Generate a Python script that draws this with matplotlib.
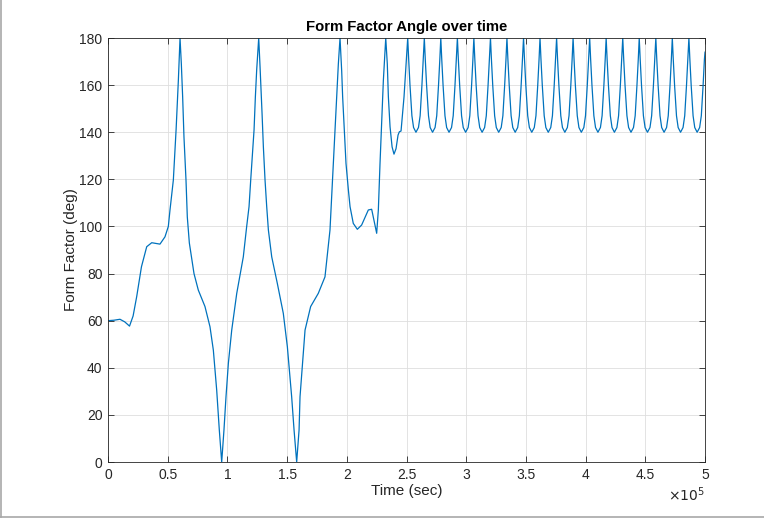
import matplotlib
matplotlib.use("Agg")
import matplotlib.pyplot as plt
from matplotlib.lines import Line2D

plt.rcParams['font.family'] = ['Liberation Sans', 'DejaVu Sans']

# time in units of 1e5 sec, angle in deg (irregular start of the run)
T_START = [0.000, 0.050, 0.100, 0.140, 0.180, 0.210, 0.240, 0.280, 0.324, 0.366,
           0.400, 0.435, 0.477, 0.505, 0.519, 0.547, 0.570, 0.589, 0.603, 0.614,
           0.625, 0.636, 0.653, 0.664, 0.681, 0.720, 0.756, 0.812, 0.854, 0.882,
           0.910, 0.932, 0.952, 0.971, 0.988, 1.008, 1.036, 1.078, 1.133, 1.161,
           1.181, 1.195, 1.223, 1.234, 1.245, 1.262, 1.273, 1.290, 1.301, 1.315,
           1.329, 1.343, 1.371, 1.418, 1.468, 1.502, 1.538, 1.558, 1.580, 1.600,
           1.608, 1.650, 1.697, 1.761, 1.817, 1.859, 1.873, 1.887, 1.901, 1.915,
           1.929, 1.943, 1.957, 1.965, 1.979, 1.993, 2.013, 2.027, 2.054, 2.088,
           2.124, 2.180, 2.208, 2.230, 2.250, 2.264, 2.278, 2.292, 2.306, 2.326,
           2.339, 2.348, 2.362, 2.379, 2.395, 2.412, 2.429, 2.440, 2.454, 2.479,
           2.496]
ANG_START = [60.0, 60.2, 60.6, 59.5, 57.7, 62.0, 70.2, 82.9, 91.4, 93.1,
             92.8, 92.5, 95.6, 100.0, 107.0, 119.7, 141.0, 162.0, 180.0, 169.0,
             155.0, 138.0, 119.7, 104.0, 93.0, 80.0, 73.0, 66.0, 57.4, 47.5,
             30.6, 13.6, 0.0, 13.6, 27.7, 42.0, 56.0, 71.6, 87.1, 99.9,
             108.4, 119.7, 141.0, 155.0, 166.4, 180.0, 168.0, 148.0, 133.8, 119.7,
             108.4, 98.5, 87.1, 75.8, 63.1, 48.9, 27.7, 13.6, 0.0, 13.6,
             27.7, 56.0, 66.0, 71.6, 78.6, 98.5, 112.6, 126.8, 141.0, 155.0,
             169.0, 180.0, 166.0, 155.0, 141.0, 126.8, 115.5, 108.4, 101.3, 98.8,
             100.6, 107.0, 107.3, 102.0, 97.1, 107.0, 126.8, 145.0, 162.0, 180.0,
             169.0, 155.0, 142.3, 133.8, 130.7, 133.0, 138.8, 140.2, 140.5, 155.0,
             169.0]

# steady oscillation: one row per cycle (peak -> trough -> rise)
T_CYCLES = [
    [2.510, 2.518, 2.529, 2.545, 2.559, 2.579, 2.600, 2.614, 2.629, 2.640],
    [2.649, 2.657, 2.668, 2.684, 2.698, 2.718, 2.739, 2.753, 2.768, 2.779],
    [2.787, 2.795, 2.806, 2.822, 2.836, 2.856, 2.877, 2.891, 2.906, 2.917],
    [2.926, 2.934, 2.945, 2.961, 2.975, 2.995, 3.016, 3.030, 3.045, 3.056],
    [3.064, 3.072, 3.083, 3.099, 3.113, 3.133, 3.154, 3.168, 3.183, 3.194],
    [3.203, 3.211, 3.222, 3.238, 3.252, 3.272, 3.293, 3.307, 3.322, 3.333],
    [3.341, 3.349, 3.360, 3.376, 3.390, 3.410, 3.431, 3.445, 3.460, 3.471],
    [3.480, 3.488, 3.499, 3.515, 3.529, 3.549, 3.570, 3.584, 3.599, 3.610],
    [3.618, 3.626, 3.637, 3.653, 3.667, 3.687, 3.708, 3.722, 3.737, 3.748],
    [3.757, 3.765, 3.776, 3.792, 3.806, 3.826, 3.847, 3.861, 3.876, 3.887],
    [3.895, 3.903, 3.914, 3.930, 3.944, 3.964, 3.985, 3.999, 4.014, 4.025],
    [4.034, 4.042, 4.053, 4.069, 4.083, 4.103, 4.124, 4.138, 4.153, 4.164],
    [4.172, 4.180, 4.191, 4.207, 4.221, 4.241, 4.262, 4.276, 4.291, 4.302],
    [4.311, 4.319, 4.330, 4.346, 4.360, 4.380, 4.401, 4.415, 4.430, 4.441],
    [4.449, 4.457, 4.468, 4.484, 4.498, 4.518, 4.539, 4.553, 4.568, 4.579],
    [4.588, 4.596, 4.607, 4.623, 4.637, 4.657, 4.678, 4.692, 4.707, 4.718],
    [4.726, 4.734, 4.745, 4.761, 4.775, 4.795, 4.816, 4.830, 4.845, 4.856],
    [4.865, 4.873, 4.884, 4.900, 4.914, 4.934, 4.955, 4.969, 4.984, 4.995],
]
ANG_CYCLE = [180.0, 171.0, 160.0, 147.0, 142.0, 140.0, 142.0, 147.0, 160.0, 171.0]
T_END = [5.000]
ANG_END = [174.0]

XTICKS = [0, 0.5, 1, 1.5, 2, 2.5, 3, 3.5, 4, 4.5, 5]
YTICKS = [0, 20, 40, 60, 80, 100, 120, 140, 160, 180]

t = list(T_START)
ang = list(ANG_START)
for row in T_CYCLES:
    t += row
    ang += ANG_CYCLE
t += T_END
ang += ANG_END

fig = plt.figure(figsize=(7.64, 5.2), dpi=100)
ax = fig.add_axes([0.1414, 0.1115, 0.7814, 0.8154])

ax.plot(t, ang, color='#0072BD', linewidth=0.9)

ax.set_xlim(0, 5)
ax.set_ylim(0, 180)
ax.set_xticks(XTICKS)
ax.set_xticklabels(['%g' % v for v in XTICKS])
ax.set_yticks(YTICKS)

ax.grid(True, color='#dedede', linewidth=0.6)
ax.set_axisbelow(True)
ax.tick_params(direction='in', top=True, right=True, length=4.5, width=0.6,
               colors='#262626', labelsize=10, pad=4)
for s in ax.spines.values():
    s.set_color('#262626')
    s.set_linewidth(0.6)

ax.set_title('Form Factor Angle over time', fontsize=10.7, fontweight='bold',
             color='black', pad=5)
ax.set_xlabel('Time (sec)', fontsize=11, color='#262626', labelpad=2)
ax.set_ylabel('Form Factor (deg)', fontsize=11, color='#262626', labelpad=1)
ax.text(1.0, -0.076, r'$\times10^{5}$', transform=ax.transAxes, ha='right',
        va='center', fontsize=10, color='#262626')

# window frame visible in the screenshot
fig.add_artist(Line2D([0.0007, 0.0007], [0.006, 1.0], transform=fig.transFigure,
                      color='#a8a8a8', linewidth=1.2))
fig.add_artist(Line2D([0.0, 1.0], [0.006, 0.006], transform=fig.transFigure,
                      color='#a8a8a8', linewidth=1.2))

fig.savefig('out.png', dpi=100)
